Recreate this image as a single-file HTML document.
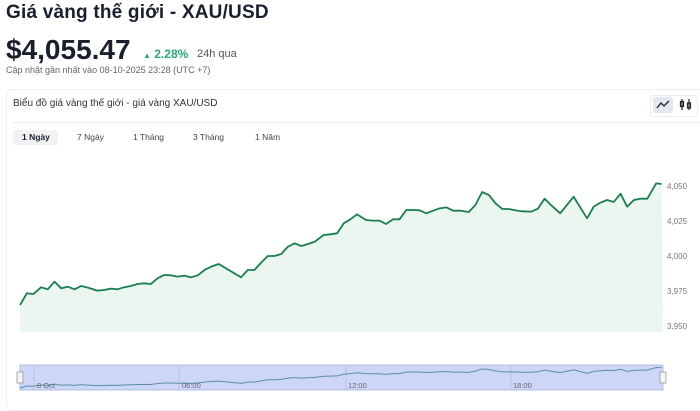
<!DOCTYPE html>
<html><head><meta charset="utf-8"><style>
body{margin:0;width:700px;height:400px;background:#fff;font-family:"Liberation Sans",sans-serif;overflow:hidden;position:relative;color:#1a1f2e}
.a{position:absolute;white-space:nowrap}
</style></head><body>
<div class="a" style="left:6px;top:2px;font-size:19px;font-weight:bold;letter-spacing:0.2px">Giá vàng thế giới - XAU/USD</div>
<div class="a" style="left:6px;top:34px;font-size:28px;font-weight:bold">$4,055.47</div>
<div class="a" style="left:143px;top:47px;font-size:12px;color:#2aa772;font-weight:bold"><span style="font-size:8px">▲</span> 2.28%</div>
<div class="a" style="left:197px;top:48px;font-size:11px;color:#555">24h qua</div>
<div class="a" style="left:6px;top:65px;font-size:9px;color:#666">Cập nhật gần nhất vào 08-10-2025 23:28 (UTC +7)</div>
<div class="a" style="left:6px;top:89px;width:700px;height:320px;border:1px solid #eee;border-radius:6px"></div>
<div class="a" style="left:13px;top:98px;font-size:10px;color:#333">Biểu đồ giá vàng thế giới - giá vàng XAU/USD</div>
<div class="a" style="left:12px;top:122px;width:688px;height:1px;background:#eee"></div>
<div class="a" style="left:650px;top:95px;width:46px;height:20px;border:1px solid #eee;border-radius:3px"></div>
<div class="a" style="left:653px;top:97px;width:20px;height:16px;background:#e3e7ef;border-radius:3px"></div>
<svg class="a" style="left:0;top:0" width="700" height="400">
<polyline points="657,108 661,103 664,106 669,101" fill="none" stroke="#222" stroke-width="1.3"/>
<g stroke="#222" stroke-width="1.2" fill="none"><line x1="682" y1="99" x2="682" y2="110"/><rect x="680.5" y="101.5" width="3" height="5"/><line x1="689" y1="99" x2="689" y2="110"/><rect x="687.5" y="103" width="3" height="5"/></g>
</svg>
<div class="a" style="left:13px;top:130px;width:45px;height:15px;background:#f1f2f4;border-radius:3px"></div>
<div class="a" style="left:22px;top:132px;font-size:8.5px;font-weight:bold">1 Ngày</div>
<div class="a" style="left:77px;top:132px;font-size:8.5px;color:#444">7 Ngày</div>
<div class="a" style="left:133px;top:132px;font-size:8.5px;color:#444">1 Tháng</div>
<div class="a" style="left:193px;top:132px;font-size:8.5px;color:#444">3 Tháng</div>
<div class="a" style="left:255px;top:132px;font-size:8.5px;color:#444">1 Năm</div>
<svg class="a" style="left:0;top:0" width="700" height="400">
<g transform="translate(0,170) scale(0.4464,0.3333)">
<polygon points="45,405 60,370 75,372 92,352 107,358 122,335 137,355 152,350 167,358 182,348 197,353 218,362 233,360 248,356 263,358 278,352 293,348 308,342 323,340 338,342 353,325 368,315 383,316 398,320 413,317 428,322 443,316 458,300 473,290 490,282 540,322 555,300 570,300 585,278 600,258 615,258 630,252 645,230 660,220 675,228 690,222 705,215 725,195 740,193 755,190 770,160 785,148 800,133 820,150 835,152 850,152 865,162 880,148 895,148 910,120 925,120 940,121 955,130 970,122 985,115 1000,112 1015,122 1030,122 1050,126 1065,105 1080,66 1095,75 1110,100 1125,117 1140,117 1155,121 1170,124 1190,125 1205,116 1220,86 1235,106 1255,130 1285,80 1315,145 1330,110 1345,98 1360,90 1375,96 1390,71 1405,110 1420,90 1435,86 1450,86 1470,40 1482,42 1485,487 45,487" fill="#eaf6ef"/>
<polyline points="45,405 60,370 75,372 92,352 107,358 122,335 137,355 152,350 167,358 182,348 197,353 218,362 233,360 248,356 263,358 278,352 293,348 308,342 323,340 338,342 353,325 368,315 383,316 398,320 413,317 428,322 443,316 458,300 473,290 490,282 540,322 555,300 570,300 585,278 600,258 615,258 630,252 645,230 660,220 675,228 690,222 705,215 725,195 740,193 755,190 770,160 785,148 800,133 820,150 835,152 850,152 865,162 880,148 895,148 910,120 925,120 940,121 955,130 970,122 985,115 1000,112 1015,122 1030,122 1050,126 1065,105 1080,66 1095,75 1110,100 1125,117 1140,117 1155,121 1170,124 1190,125 1205,116 1220,86 1235,106 1255,130 1285,80 1315,145 1330,110 1345,98 1360,90 1375,96 1390,71 1405,110 1420,90 1435,86 1450,86 1470,40 1482,42" fill="none" stroke="#1a7f4e" stroke-width="1.8" stroke-linejoin="round" vector-effect="non-scaling-stroke"/>
</g>
<g font-size="8" fill="#777">
<text x="667" y="189">4,050</text><text x="667" y="224">4,025</text><text x="667" y="259">4,000</text><text x="667" y="294">3,975</text><text x="667" y="329">3,950</text>
</g>
<rect x="20" y="365" width="643" height="25" fill="#cdd6f7" stroke="#a9b4dd" stroke-width="0.8"/>
<g stroke="#b3bde3" stroke-width="0.8"><line x1="34" y1="365" x2="34" y2="390"/><line x1="179" y1="365" x2="179" y2="390"/><line x1="346" y1="365" x2="346" y2="390"/><line x1="511" y1="365" x2="511" y2="390"/></g>
<g transform="translate(0,365.25) scale(0.4464,0.0562)">
<polyline points="45,405 60,370 75,372 92,352 107,358 122,335 137,355 152,350 167,358 182,348 197,353 218,362 233,360 248,356 263,358 278,352 293,348 308,342 323,340 338,342 353,325 368,315 383,316 398,320 413,317 428,322 443,316 458,300 473,290 490,282 540,322 555,300 570,300 585,278 600,258 615,258 630,252 645,230 660,220 675,228 690,222 705,215 725,195 740,193 755,190 770,160 785,148 800,133 820,150 835,152 850,152 865,162 880,148 895,148 910,120 925,120 940,121 955,130 970,122 985,115 1000,112 1015,122 1030,122 1050,126 1065,105 1080,66 1095,75 1110,100 1125,117 1140,117 1155,121 1170,124 1190,125 1205,116 1220,86 1235,106 1255,130 1285,80 1315,145 1330,110 1345,98 1360,90 1375,96 1390,71 1405,110 1420,90 1435,86 1450,86 1470,40 1482,42" fill="none" stroke="#5b8fa8" stroke-width="1" vector-effect="non-scaling-stroke"/>
</g>
<g font-size="7.5" fill="#666"><text x="37" y="388">8 Oct</text><text x="182" y="388">06:00</text><text x="348" y="388">12:00</text><text x="513" y="388">18:00</text></g>
<rect x="17" y="372" width="6" height="11" fill="#f4f4f4" stroke="#999" stroke-width="0.8"/>
<rect x="660" y="372" width="6" height="11" fill="#f4f4f4" stroke="#999" stroke-width="0.8"/>
</svg>
</body></html>
